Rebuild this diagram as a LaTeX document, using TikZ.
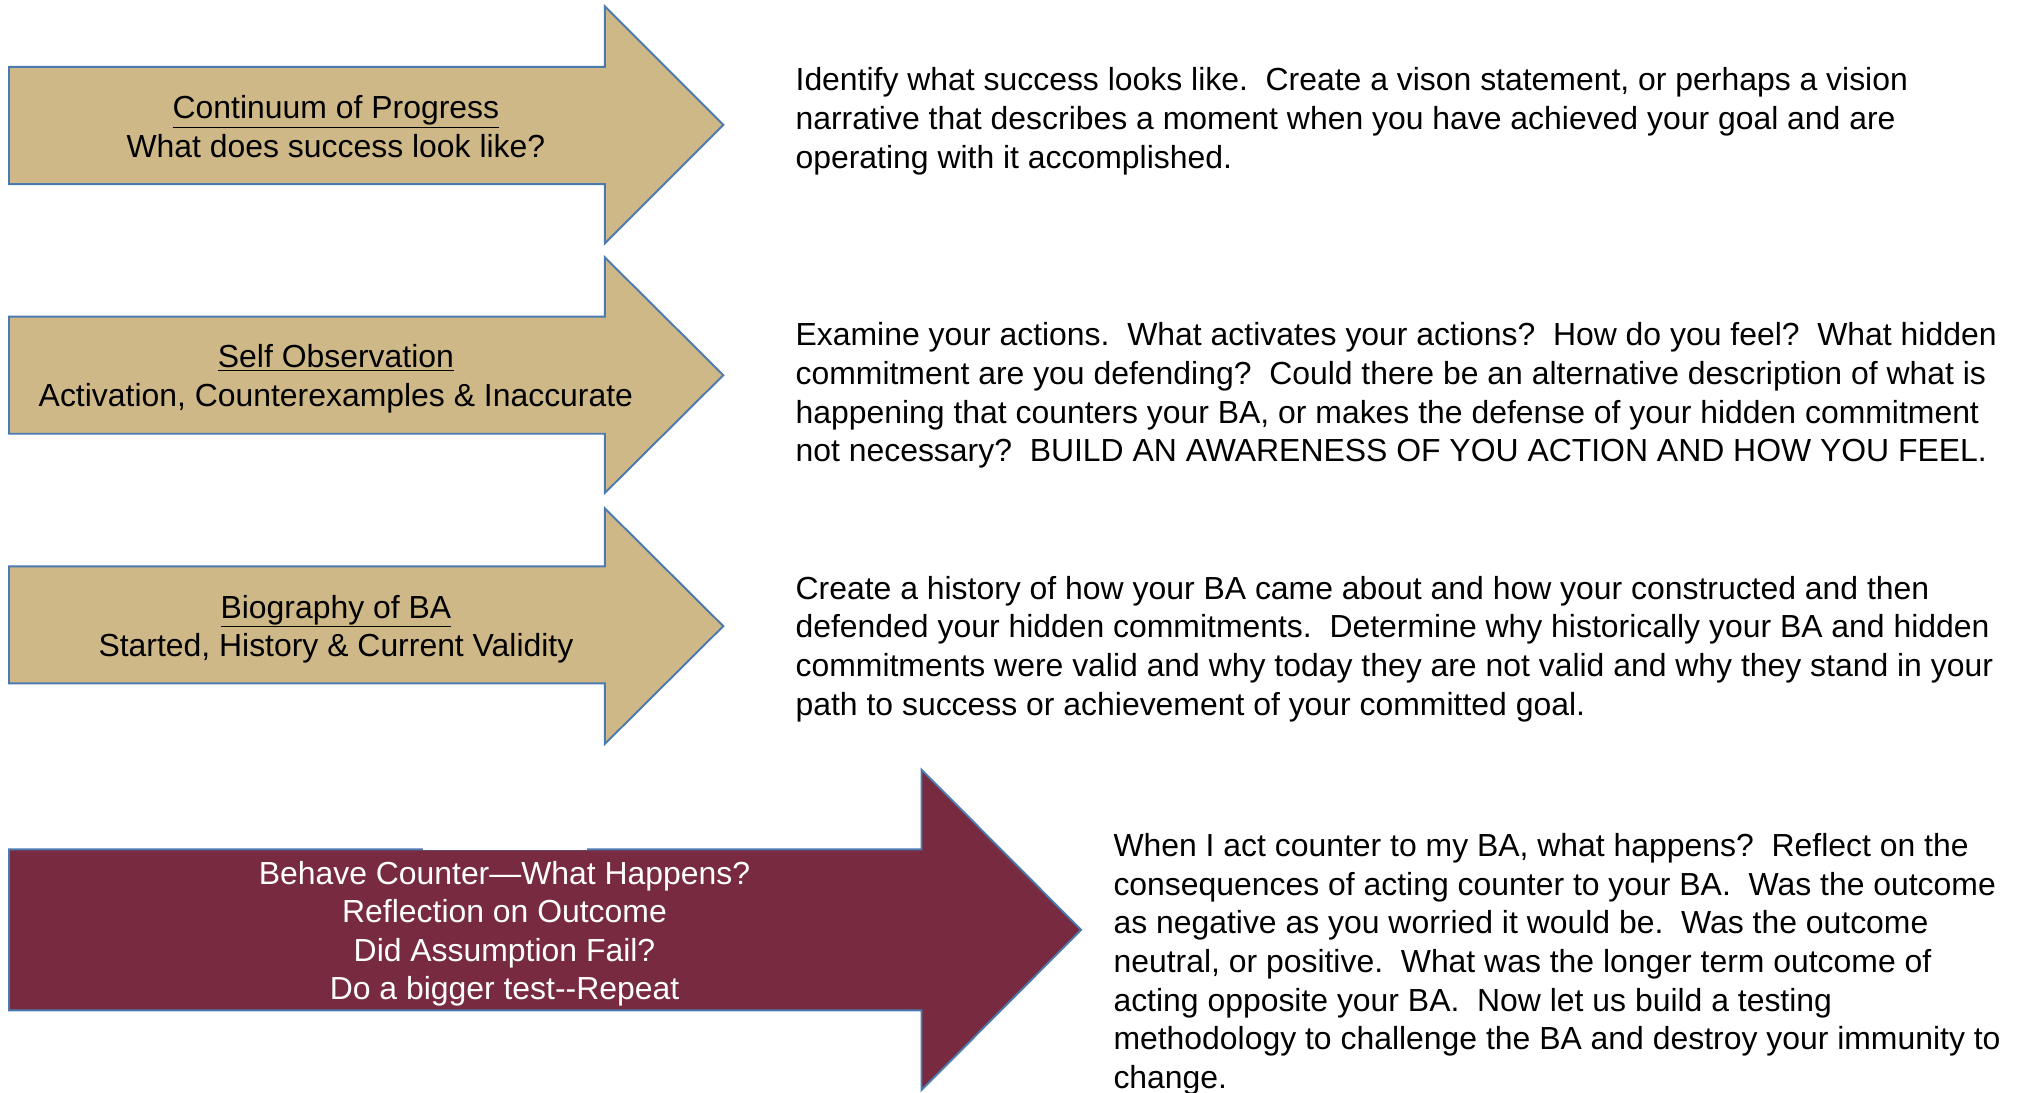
\documentclass[tikz,border=0pt]{standalone}
\usepackage{fontspec}
\setmainfont{Liberation Sans}
\definecolor{tanfill}{HTML}{CFB887}
\definecolor{garnet}{HTML}{782A40}
\definecolor{edgeblue}{HTML}{4A7AB0}
\tikzset{
  arrowshape/.style={draw=edgeblue, line width=1.5pt, line join=miter},
  tanarrow/.style={arrowshape, fill=tanfill},
  redarrow/.style={arrowshape, fill=garnet},
  bigtext/.style={font=\fontsize{24.8}{30}\selectfont},
  desc/.style={bigtext, anchor=north west, inner sep=0pt, align=left},
  lbl/.style={bigtext, inner sep=0pt, align=center},
}
\begin{document}
\begin{tikzpicture}[x=1pt,y=-1pt]
\useasboundingbox (0,0) rectangle (1568,849);
\begin{scope}
\clip (0,0) rectangle (1568,849);
% arrow 1
\draw[tanarrow] (7,52) -- (470,52) -- (470,5) -- (562,97) -- (470,189) -- (470,143) -- (7,143) -- cycle;
% arrow 2
\draw[tanarrow] (7,246) -- (470,246) -- (470,200) -- (562,291.5) -- (470,383) -- (470,337) -- (7,337) -- cycle;
% arrow 3
\draw[tanarrow] (7,440) -- (470,440) -- (470,395) -- (562,486.5) -- (470,578) -- (470,531) -- (7,531) -- cycle;
% arrow 4
\draw[redarrow] (7,660) -- (716,660) -- (716,598) -- (840,722.5) -- (716,847) -- (716,785) -- (7,785) -- cycle;
\draw[white, line width=1.5pt] (329,660) -- (456,660);
\end{scope}

\node[lbl] (a1) at (261,98.5) {\underline{Continuum of Progress}\\What does success look like?};
\node[lbl] (a2) at (261,294.5) {\underline{Self Observation}\\Activation, Counterexamples \& Inaccurate};
\node[lbl] (a3) at (261,489) {\underline{Biography of BA}\\Started, History \& Current Validity};
\node[lbl, text=white] (a4) at (392,725.5) {Behave Counter---What Happens?\\Reflection on Outcome\\Did Assumption Fail?\\Do a bigger test-{}-Repeat};

\node[desc] (d1) at (618,52.5) {Identify what success looks like.\ \ Create a vison statement, or perhaps a vision\\
narrative that describes a moment when you have achieved your goal and are\\
operating with it accomplished.};
\node[desc] (d2) at (618,250.5) {Examine your actions.\ \ What activates your actions?\ \ How do you feel?\ \ What hidden\\
commitment are you defending?\ \ Could there be an alternative description of what is\\
happening that counters your BA, or makes the defense of your hidden commitment\\
not necessary?\ \ BUILD AN AWARENESS OF YOU ACTION AND HOW YOU FEEL.};
\node[desc] (d3) at (618,447.5) {Create a history of how your BA came about and how your constructed and then\\
defended your hidden commitments.\ \ Determine why historically your BA and hidden\\
commitments were valid and why today they are not valid and why they stand in your\\
path to success or achievement of your committed goal.};
\node[desc] (d4) at (865,647.5) {When I act counter to my BA, what happens?\ \ Reflect on the\\
consequences of acting counter to your BA.\ \ Was the outcome\\
as negative as you worried it would be.\ \ Was the outcome\\
neutral, or positive.\ \ What was the longer term outcome of\\
acting opposite your BA.\ \ Now let us build a testing\\
methodology to challenge the BA and destroy your immunity to\\
change.};
\end{tikzpicture}
\end{document}
